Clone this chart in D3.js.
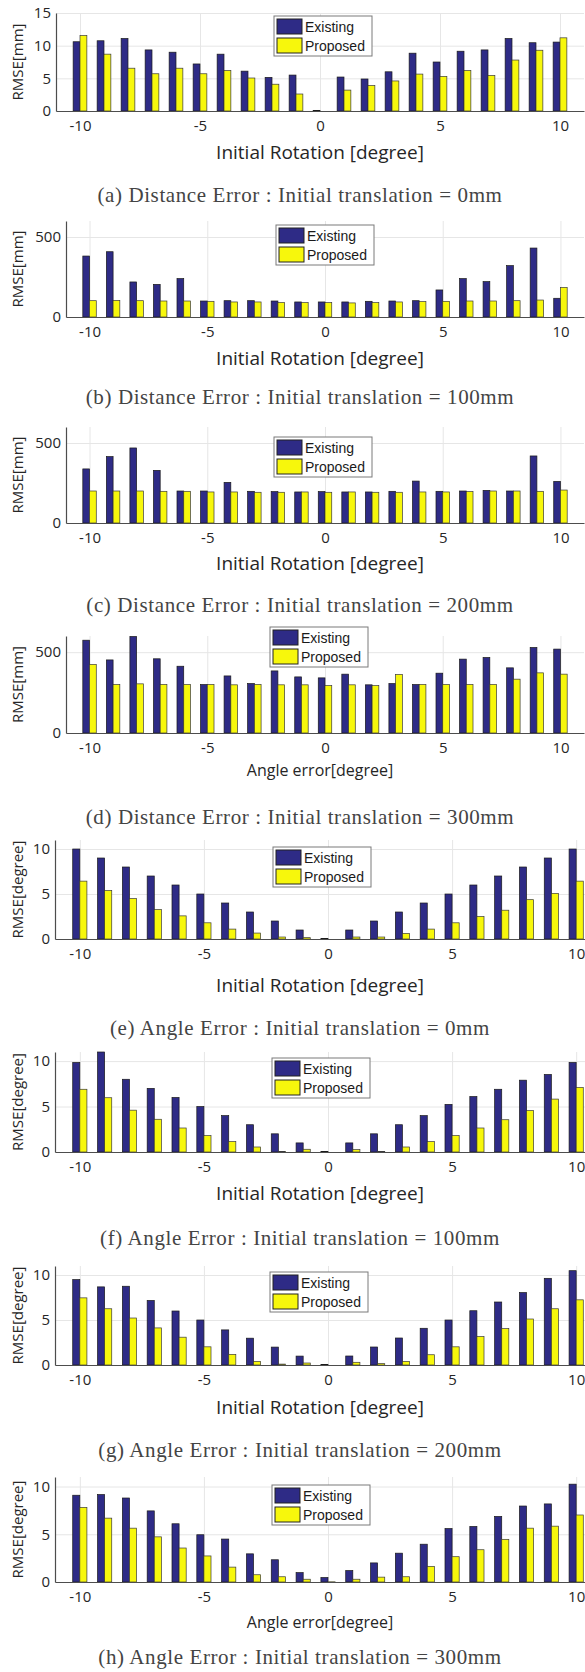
<!DOCTYPE html>
<html>
<head>
<meta charset="utf-8">
<script src="https://cdnjs.cloudflare.com/ajax/libs/d3/7.8.5/d3.min.js"></script>
<style>
  body { margin: 0; background: #fff; }
  .tick text { font-family: "Open Sans", Arial, sans-serif; font-size: 15px; fill: #262626; }
  .grid line { stroke: #e6e6e6; }
  .grid path { display: none; }
</style>
</head>
<body>
<div class="chart"></div>
<script>
var svgWidth = 585;
var svgHeight = 1672;

// x categories (initial rotation, degree)
var angles = [-10, -9, -8, -7, -6, -5, -4, -3, -2, -1, 0, 1, 2, 3, 4, 5, 6, 7, 8, 9, 10];
var xTicks = [-10, -5, 0, 5, 10];

// distance error [mm]
var distExisting0 = [10.6, 10.75, 11.1, 9.35, 9.0, 7.2, 8.7, 6.1, 5.15, 5.5, 0.1, 5.2, 4.9, 6.0, 8.85, 7.5, 9.15, 9.35, 11.1, 10.45, 10.55];
var distProposed0 = [11.55, 8.7, 6.55, 5.7, 6.55, 5.7, 6.2, 5.05, 4.1, 2.6, 0, 3.2, 3.9, 4.6, 5.65, 5.3, 6.2, 5.45, 7.8, 9.3, 11.2];
var distExisting100 = [381, 408, 219, 204, 240, 100, 102, 102, 100, 94, 94, 94, 98, 100, 102, 169, 240, 221, 321, 431, 117];
var distProposed100 = [102, 104, 102, 100, 100, 98, 94, 94, 90, 90, 90, 88, 90, 94, 96, 98, 100, 100, 102, 106, 185];
var distExisting200 = [338, 415, 469, 329, 200, 200, 254, 198, 196, 194, 196, 194, 194, 198, 262, 198, 200, 204, 200, 419, 260];
var distProposed200 = [200, 200, 200, 198, 198, 194, 194, 192, 192, 194, 192, 194, 192, 192, 194, 194, 196, 200, 200, 198, 206];
var distExisting300 = [574, 452, 597, 459, 413, 300, 353, 306, 384, 347, 341, 364, 298, 306, 300, 370, 457, 467, 403, 529, 519];
var distProposed300 = [424, 300, 304, 300, 300, 300, 298, 300, 298, 298, 293, 298, 293, 362, 300, 300, 300, 300, 333, 372, 364];

// angle error [degree]
var angExisting0 = [10, 9, 8, 7, 6, 5, 4, 3, 2, 1, 0.05, 1, 2, 3, 4, 5, 6, 7, 8, 9, 10];
var angProposed0 = [6.43, 5.4, 4.5, 3.27, 2.57, 1.8, 1.1, 0.66, 0.22, 0.15, 0, 0.22, 0.22, 0.62, 1.1, 1.8, 2.5, 3.2, 4.37, 5.07, 6.43];
var angExisting100 = [9.85, 11.0, 8.0, 7.0, 6.0, 5.0, 4.0, 3.0, 2.0, 1.0, 0.05, 1.0, 2.0, 3.0, 4.0, 5.24, 6.1, 6.9, 7.9, 8.53, 9.85];
var angProposed100 = [6.9, 5.97, 4.6, 3.6, 2.64, 1.8, 1.14, 0.55, 0.07, 0.3, 0, 0.26, 0.07, 0.55, 1.14, 1.8, 2.64, 3.55, 4.55, 5.82, 7.1];
var angExisting200 = [9.49, 8.68, 8.75, 7.17, 6.0, 5.0, 3.9, 2.98, 1.99, 0.99, 0.05, 1.0, 2.0, 3.0, 4.08, 5.0, 6.03, 7.0, 8.05, 9.63, 10.48];
var angProposed200 = [7.46, 6.25, 5.22, 4.12, 3.09, 2.02, 1.18, 0.4, 0.1, 0.22, 0, 0.3, 0.15, 0.4, 1.14, 2.02, 3.16, 4.04, 5.11, 6.25, 7.24];
var angExisting300 = [9.09, 9.16, 8.8, 7.45, 6.1, 4.95, 4.5, 2.95, 2.33, 0.98, 0.47, 1.2, 2.0, 3.02, 3.96, 5.6, 5.82, 6.87, 7.96, 8.18, 10.25];
var angProposed300 = [7.82, 6.69, 5.64, 4.73, 3.56, 2.73, 1.56, 0.76, 0.55, 0.29, 0.02, 0.29, 0.51, 0.55, 1.64, 2.65, 3.38, 4.47, 5.64, 5.85, 7.02];

var seriesNames = ["Existing", "Proposed"];
var seriesColors = ["#2e2b86", "#f7f70c"];

// panel layout (pixel positions of each sub plot)
var panels = [
  { e: distExisting0, p: distProposed0, yMax: 15, yTicks: [0, 5, 10, 15], yLabel: "RMSE[mm]", xLabel: "Initial Rotation [degree]", xlSize: 19,
    caption: "(a) Distance Error : Initial translation = 0mm", left: 56, right: 584, bottom: 111, top: 13, xlY: 159, capY: 202, legend: [274, 16] },
  { e: distExisting100, p: distProposed100, yMax: 600, yTicks: [0, 500], yLabel: "RMSE[mm]", xLabel: "Initial Rotation [degree]", xlSize: 19,
    caption: "(b) Distance Error : Initial translation = 100mm", left: 66, right: 584, bottom: 317, top: 221, xlY: 365, capY: 404, legend: [276, 225] },
  { e: distExisting200, p: distProposed200, yMax: 600, yTicks: [0, 500], yLabel: "RMSE[mm]", xLabel: "Initial Rotation [degree]", xlSize: 19,
    caption: "(c) Distance Error : Initial translation = 200mm", left: 66, right: 584, bottom: 523, top: 427, xlY: 570, capY: 612, legend: [274, 437] },
  { e: distExisting300, p: distProposed300, yMax: 600, yTicks: [0, 500], yLabel: "RMSE[mm]", xLabel: "Angle error[degree]", xlSize: 16,
    caption: "(d) Distance Error : Initial translation = 300mm", left: 66, right: 584, bottom: 733, top: 636, xlY: 776, capY: 824, legend: [270, 627] },
  { e: angExisting0, p: angProposed0, yMax: 11, yTicks: [0, 5, 10], yLabel: "RMSE[degree]", xLabel: "Initial Rotation [degree]", xlSize: 19,
    caption: "(e) Angle Error : Initial translation = 0mm", left: 55, right: 601, bottom: 939, top: 840, xlY: 992, capY: 1035, legend: [273, 847] },
  { e: angExisting100, p: angProposed100, yMax: 11, yTicks: [0, 5, 10], yLabel: "RMSE[degree]", xLabel: "Initial Rotation [degree]", xlSize: 19,
    caption: "(f) Angle Error : Initial translation = 100mm", left: 55, right: 601, bottom: 1152, top: 1052, xlY: 1200, capY: 1245, legend: [272, 1058] },
  { e: angExisting200, p: angProposed200, yMax: 11, yTicks: [0, 5, 10], yLabel: "RMSE[degree]", xLabel: "Initial Rotation [degree]", xlSize: 19,
    caption: "(g) Angle Error : Initial translation = 200mm", left: 55, right: 601, bottom: 1365, top: 1266, xlY: 1414, capY: 1457, legend: [270, 1272] },
  { e: angExisting300, p: angProposed300, yMax: 11, yTicks: [0, 5, 10], yLabel: "RMSE[degree]", xLabel: "Angle error[degree]", xlSize: 16,
    caption: "(h) Angle Error : Initial translation = 300mm", left: 55, right: 601, bottom: 1582, top: 1477, xlY: 1628, capY: 1664, legend: [272, 1485] }
];

var svg = d3
  .select(".chart")
  .append("svg")
  .attr("width", svgWidth)
  .attr("height", svgHeight)
  .style("display", "block");

var sans = "'Open Sans', Arial, sans-serif";

panels.forEach(function(pn) {
  var g = svg.append("g");

  var xScale = d3.scaleLinear().domain([-11, 11]).range([pn.left, pn.right]);
  var yScale = d3.scaleLinear().domain([0, pn.yMax]).range([pn.bottom, pn.top]);

  // grid lines
  g.append("g")
    .classed("grid", true)
    .attr("transform", `translate(0, ${pn.bottom})`)
    .call(d3.axisBottom(xScale).tickValues(xTicks).tickSize(-(pn.bottom - pn.top)).tickFormat(""));
  g.append("g")
    .classed("grid", true)
    .attr("transform", `translate(${pn.left}, 0)`)
    .call(d3.axisLeft(yScale).tickValues(pn.yTicks.filter(d => d > 0)).tickSize(-(pn.right - pn.left)).tickFormat(""));

  // bars, existing on the left half, proposed on the right half
  var bw = 0.286;
  g.selectAll(".bar-e")
    .data(angles)
    .enter()
    .append("rect")
    .attr("x", (d) => xScale(d - bw))
    .attr("y", (d, i) => yScale(pn.e[i]))
    .attr("width", (d) => xScale(d) - xScale(d - bw))
    .attr("height", (d, i) => yScale(0) - yScale(pn.e[i]))
    .attr("fill", seriesColors[0])
    .attr("stroke", "#1a1a1a")
    .attr("stroke-width", 0.7);
  g.selectAll(".bar-p")
    .data(angles)
    .enter()
    .append("rect")
    .attr("x", (d) => xScale(d))
    .attr("y", (d, i) => yScale(pn.p[i]))
    .attr("width", (d) => xScale(d + bw) - xScale(d))
    .attr("height", (d, i) => yScale(0) - yScale(pn.p[i]))
    .attr("fill", seriesColors[1])
    .attr("stroke", "#3a3a3a")
    .attr("stroke-width", 0.7);

  // axes (plain hyphen for negative ticks, as in the original)
  var xAxis = g.append("g")
    .attr("transform", `translate(0, ${pn.bottom})`)
    .call(d3.axisBottom(xScale).tickValues(xTicks).tickSize(0).tickPadding(9).tickFormat(d => String(d)));
  xAxis.select(".domain").attr("stroke", "#4d4d4d").attr("stroke-width", 1.2);

  var yAxis = g.append("g")
    .attr("transform", `translate(${pn.left}, 0)`)
    .call(d3.axisLeft(yScale).tickValues(pn.yTicks).tickSize(0).tickPadding(5).tickFormat(d => String(d)));
  yAxis.select(".domain").attr("stroke", "#4d4d4d").attr("stroke-width", 1.2);

  // axis labels
  g.append("text")
    .attr("transform", `translate(${18}, ${(pn.top + pn.bottom) / 2}) rotate(-90)`)
    .attr("text-anchor", "middle")
    .attr("dy", "0.35em")
    .attr("font-family", sans)
    .attr("font-size", "15px")
    .attr("fill", "#262626")
    .text(pn.yLabel);

  g.append("text")
    .attr("x", 320)
    .attr("y", pn.xlY)
    .attr("text-anchor", "middle")
    .attr("font-family", sans)
    .attr("font-size", pn.xlSize + "px")
    .attr("fill", "#262626")
    .text(pn.xLabel);

  // legend
  var lg = g.append("g").attr("transform", `translate(${pn.legend[0]}, ${pn.legend[1]})`);
  lg.append("rect")
    .attr("width", 98)
    .attr("height", 40)
    .attr("fill", "#fff")
    .attr("stroke", "#7a7a7a");
  seriesNames.forEach(function(name, i) {
    lg.append("rect")
      .attr("x", 3)
      .attr("y", 3 + i * 19)
      .attr("width", 25)
      .attr("height", 15)
      .attr("fill", seriesColors[i])
      .attr("stroke", "#222");
    lg.append("text")
      .attr("x", 31)
      .attr("y", 11 + i * 19)
      .attr("dy", "0.35em")
      .attr("font-family", "'Liberation Sans', Arial, sans-serif")
      .attr("font-size", "14px")
      .attr("fill", "#1a1a1a")
      .text(name);
  });

  // caption
  svg.append("text")
    .attr("x", 300)
    .attr("y", pn.capY)
    .attr("text-anchor", "middle")
    .attr("font-family", "'Liberation Serif', 'DejaVu Serif', serif")
    .attr("font-size", "21px")
    .attr("letter-spacing", "0.6px")
    .attr("fill", "#444")
    .text(pn.caption);
});
</script>
</body>
</html>
